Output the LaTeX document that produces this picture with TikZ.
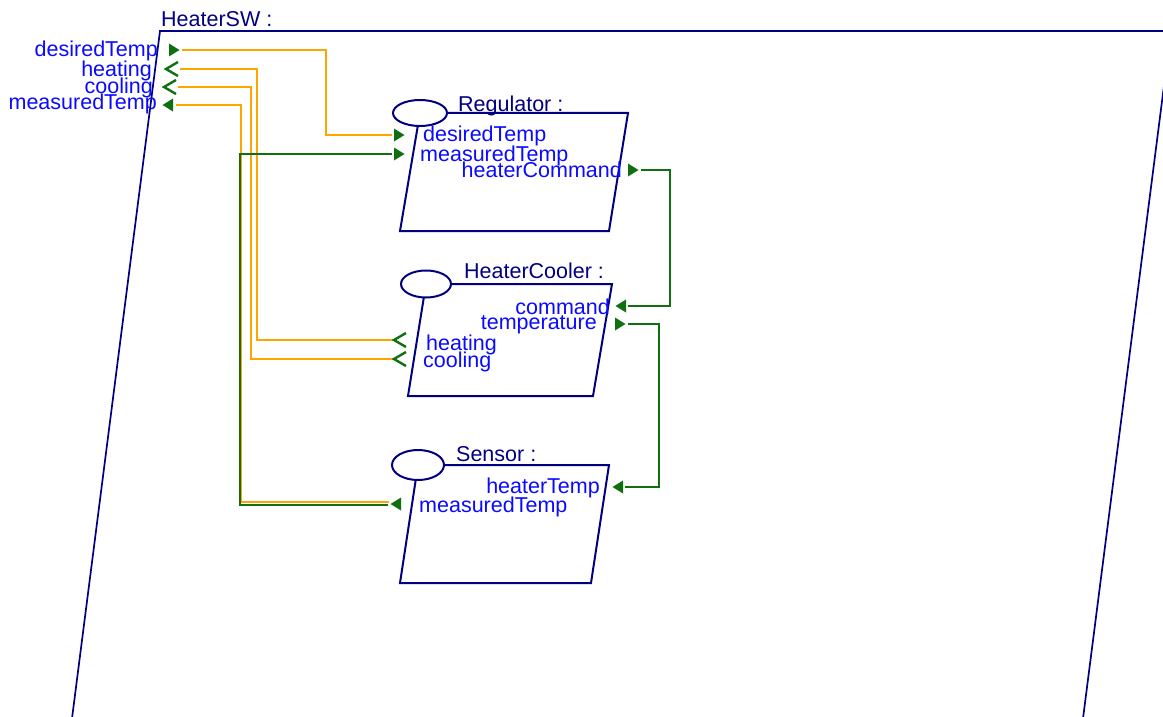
\documentclass[tikz,border=0pt]{standalone}
\usepackage{fontspec}
\setmainfont{Liberation Sans}
\definecolor{partnavy}{RGB}{0,0,128}
\definecolor{portblue}{RGB}{10,10,255}
\definecolor{wiregreen}{RGB}{16,112,16}
\definecolor{wireorange}{RGB}{255,165,0}
\tikzset{>=latex}
\tikzset{
	part/.style={draw=partnavy, line width=2pt},
	wireo/.style={draw=wireorange, line width=2.6pt, shorten <=8pt, shorten >=7pt},
	wireg/.style={draw=wiregreen, line width=2.6pt, shorten <=8pt, shorten >=7pt},
	plbl/.style={text=portblue, inner sep=0pt, font=\lblfont},
	tlbl/.style={text=partnavy, inner sep=0pt, font=\lblfont},
}
\newcommand{\lblfont}{\fontsize{21.5}{21.5}\selectfont}
% port markers: filled right / left, open chevron
\newcommand{\tipR}[1]{\fill[wiregreen] (#1) +(-5,-6.5) -- +(5.5,0) -- +(-5,6.5) -- cycle;}
\newcommand{\tipL}[1]{\fill[wiregreen] (#1) +(5,-6.5) -- +(-5.5,0) -- +(5,6.5) -- cycle;}
\newcommand{\tipC}[1]{\draw[wiregreen, line width=2.4pt] (#1) +(6,-7) -- +(-6,0) -- +(6,7);}

\begin{document}
\begin{tikzpicture}[x=1pt, y=-1pt]
		\useasboundingbox (0,0) rectangle (1163,717);
		\clip (0,0) rectangle (1163,717);

		% the outer part
		\draw[draw=partnavy, line width=1.7pt] (68.6,745) -- (160,31) -- (1175,31) -- (1171,31) -- (1079.6,745);
		\node[tlbl, anchor=base west] (sw) at (161,27) {HeaterSW :};

		% Regulator
		\coordinate (reg) at (420,113);
		\draw[part] (reg) -- +(208,0) -- +(189,118) -- +(-20,118) -- cycle;
		\filldraw[part, fill=white] (reg) ellipse [x radius=27pt, y radius=13pt];
		\node[tlbl, anchor=base west] (regT) at (458,111) {Regulator :};

		% HeaterCooler
		\coordinate (hc) at (426,284);
		\draw[part] (hc) -- +(186,0) -- +(167,112) -- +(-18,112) -- cycle;
		\filldraw[part, fill=white] (hc) ellipse [x radius=25pt, y radius=13.5pt];
		\node[tlbl, anchor=base west] (hcT) at (464,278) {HeaterCooler :};

		% Sensor
		\coordinate (sen) at (418,465);
		\draw[part] (sen) -- +(191,0) -- +(173,118) -- +(-18,118) -- cycle;
		\filldraw[part, fill=white] (sen) ellipse [x radius=26pt, y radius=15pt];
		\node[tlbl, anchor=base west] (senT) at (456,461) {Sensor :};

		% port labels
		\node[plbl, anchor=base east] (swDesL) at (158,57) {desiredTemp};
		\node[plbl, anchor=base east] (swHeatL) at (152,77) {heating};
		\node[plbl, anchor=base east] (swCoolL) at (153,93) {cooling};
		\node[plbl, anchor=base east] (swMeasL) at (157,110) {measuredTemp};
		\node[plbl, anchor=base west] (rDesL) at (423,142) {desiredTemp};
		\node[plbl, anchor=base west] (rMeasL) at (420,161) {measuredTemp};
		\node[plbl, anchor=base east] (rCmdL) at (622,177) {heaterCommand};
		\node[plbl, anchor=base east] (hcCmdL) at (610,314) {command};
		\node[plbl, anchor=base east] (hcTempL) at (597,329) {temperature};
		\node[plbl, anchor=base west] (hcHeatL) at (426,350) {heating};
		\node[plbl, anchor=base west] (hcCoolL) at (423,367) {cooling};
		\node[plbl, anchor=base east] (sHtL) at (600,493) {heaterTemp};
		\node[plbl, anchor=base west] (sMeasL) at (419,512) {measuredTemp};

		% port points
		\coordinate (swDes) at (174,50);
		\coordinate (swHeat) at (172,69);
		\coordinate (swCool) at (170,87);
		\coordinate (swMeas) at (168,105);
		\coordinate (rDes) at (399,135);
		\coordinate (rMeas) at (399,154);
		\coordinate (rCmd) at (633,170);
		\coordinate (hcCmd) at (621,306);
		\coordinate (hcTemp) at (620,324);
		\coordinate (hcHeat) at (400,340);
		\coordinate (hcCool) at (400,359);
		\coordinate (sHt) at (618,487);
		\coordinate (sMeas) at (396,504);

		% delegation wires
		\draw[wireo] (swDes) -- (swDes -| 326,0) |- (rDes);
		\draw[wireo] (swHeat) -- (swHeat -| 257,0) |- (hcHeat);
		\draw[wireo] (swCool) -- (swCool -| 251,0) |- (hcCool);
		\draw[wireo] (swMeas) -- (swMeas -| 241,0) |- ([yshift=2pt]sMeas);

		% assembly wires
		\draw[wireg] ([yshift=-1pt]sMeas) -- ([yshift=-1pt]sMeas -| 240,0) |- (rMeas);
		\draw[wireg] (rCmd) -- (rCmd -| 670,0) |- (hcCmd);
		\draw[wireg] (hcTemp) -- (hcTemp -| 659,0) |- (sHt);

		\tipR{swDes} \tipC{swHeat} \tipC{swCool} \tipL{swMeas}
		\tipR{rDes} \tipR{rMeas} \tipR{rCmd}
		\tipL{hcCmd} \tipR{hcTemp} \tipC{hcHeat} \tipC{hcCool}
		\tipL{sHt} \tipL{sMeas}

	\end{tikzpicture}
\end{document}
